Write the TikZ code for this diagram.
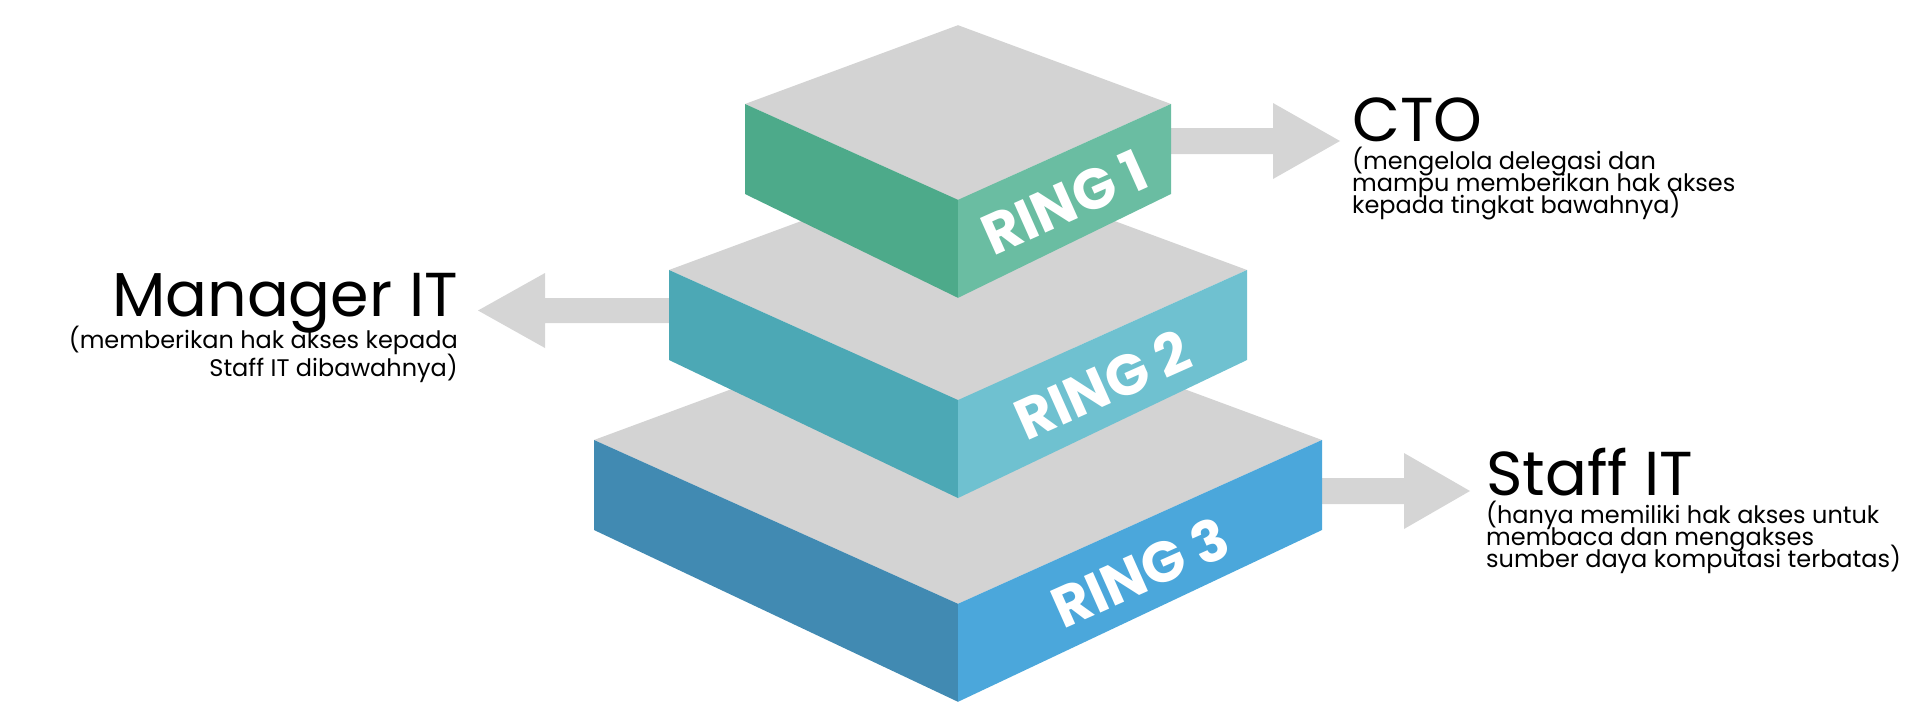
\documentclass[tikz,border=0pt]{standalone}
\usepackage{fontspec}
\setmainfont{Poppins}
\usetikzlibrary{positioning}

\definecolor{topgray}{HTML}{D3D3D3}
\definecolor{arrowgray}{HTML}{D5D5D5}
\definecolor{ringleft1}{HTML}{4DAA8A}
\definecolor{ringright1}{HTML}{6ABDA2}
\definecolor{ringleft2}{HTML}{4CA8B5}
\definecolor{ringright2}{HTML}{6FC1D0}
\definecolor{ringleft3}{HTML}{418AB2}
\definecolor{ringright3}{HTML}{4BA7DB}

% tight lines in the descriptions
\setlength{\lineskiplimit}{-30pt}

\begin{document}
\begin{tikzpicture}[x=1pt, y=-1pt,
    ringlabel/.style={text=white, inner sep=0pt, rotate=24, font=\fontsize{57}{57}\selectfont\bfseries},
    rolename/.style={inner sep=0pt, font=\fontsize{62}{62}\selectfont},
    roledesc/.style={inner sep=0pt, font=\fontsize{24}{22}\selectfont}]

    \useasboundingbox (0,0) rectangle (1920,728);

    % Arrows
    \fill[arrowgray] (1150,128) -- (1273,128) -- (1273,103) -- (1340,141) -- (1273,179) -- (1273,154) -- (1150,154) -- cycle;
    \fill[arrowgray] (690,298) -- (545,298) -- (545,273) -- (478,310.5) -- (545,348) -- (545,323) -- (690,323) -- cycle;
    \fill[arrowgray] (1300,478) -- (1404,478) -- (1404,453) -- (1470,491) -- (1404,529) -- (1404,504) -- (1300,504) -- cycle;

    % Rings, bottom one first
    \foreach \w/\s/\n in {364/440/3, 289/270/2, 213/104/1} {
        \fill[topgray] (958-\w,\s) -- (958,\s-0.37*\w) -- (958+\w,\s) -- (958,\s+0.45*\w) -- cycle;
        \fill[ringleft\n] (958-\w,\s) -- (958,\s+0.45*\w) -- (958,\s+0.45*\w+98) -- (958-\w,\s+90) -- cycle;
        \fill[ringright\n] (958+\w,\s) -- (958,\s+0.45*\w) -- (958,\s+0.45*\w+98) -- (958+\w,\s+90) -- cycle;
        \node[ringlabel] (ring\n) at (958+\w/2,\s+0.225*\w+50) {RING \n};
    }

    % Roles
    \node[rolename, anchor=base west] (cto) at (1352,141) {CTO};
    \node[roledesc, align=left, below=6pt of cto.base west, anchor=north west] (ctodesc) {(mengelola delegasi dan\\mampu memberikan hak akses\\kepada tingkat bawahnya)};

    \node[rolename, anchor=base east] (manager) at (458,316) {Manager IT};
    \node[roledesc, font=\fontsize{24}{28}\selectfont, align=right, below=10pt of manager.base east, anchor=north east] (managerdesc) {(memberikan hak akses kepada\\Staff IT dibawahnya)};

    \node[rolename, anchor=base west] (staff) at (1486,495) {Staff IT};
    \node[roledesc, align=left, below=6pt of staff.base west, anchor=north west] (staffdesc) {(hanya memiliki hak akses untuk\\membaca dan mengakses\\sumber daya komputasi terbatas)};

\end{tikzpicture}
\end{document}
